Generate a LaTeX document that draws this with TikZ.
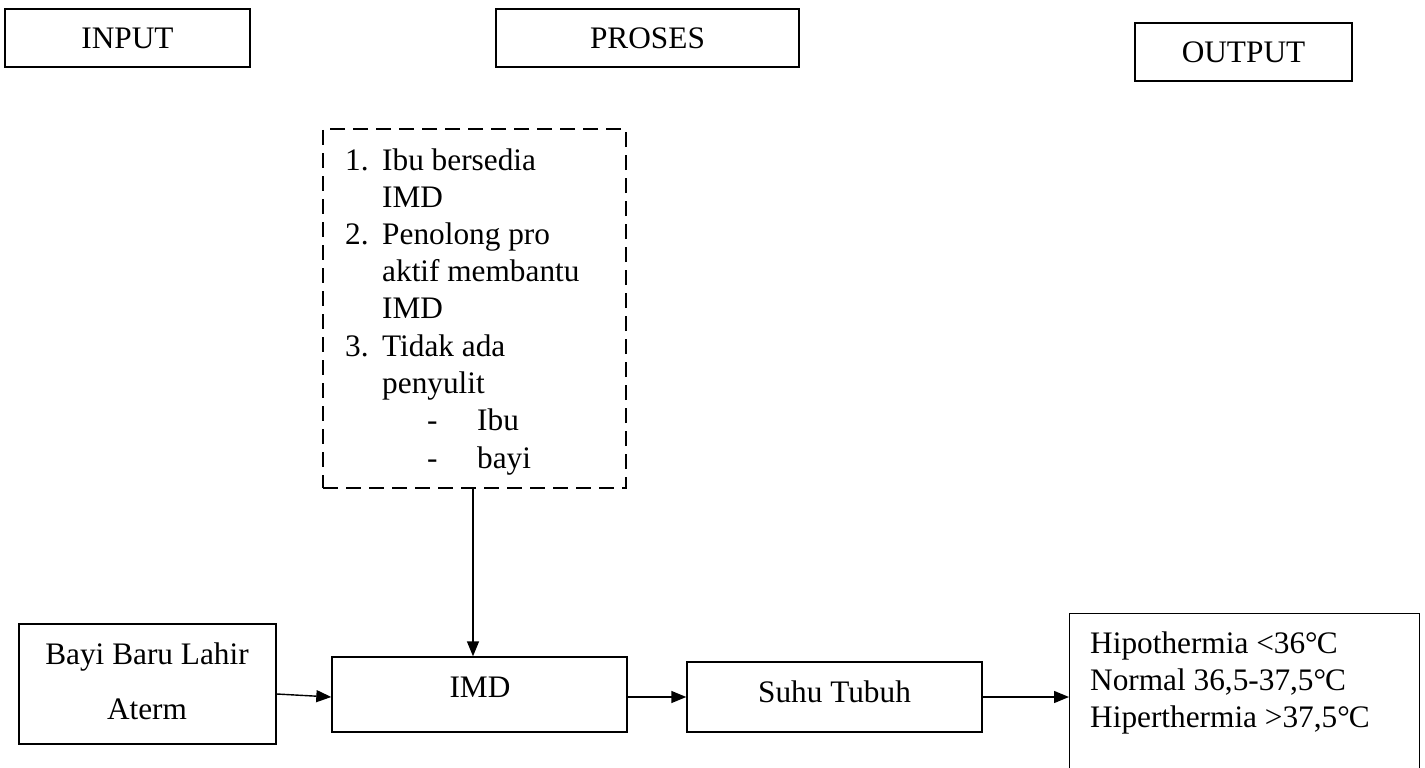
\documentclass[tikz,border=0pt]{standalone}
\usepackage{fontspec}
\setmainfont{Liberation Serif}
\usetikzlibrary{arrows.meta}
\begin{document}
\begin{tikzpicture}[x=1pt,y=-1pt,
  font=\fontsize{31.3}{37.25}\selectfont,
  box/.style={draw, line width=1.4pt, inner sep=0pt},
  dbox/.style={box, dash pattern=on 15pt off 8pt},
  txt/.style={inner sep=0pt, anchor=base},
  arr/.style={line width=1.4pt, -{Triangle[length=15pt,width=12pt]}}]
\clip (0,0) rectangle (1425,768);
% header boxes
\node[box, minimum width=245pt, minimum height=58pt] (input) at (127.5,38) {INPUT};
\node[box, minimum width=303pt, minimum height=58pt] (proses) at (647.5,38) {PROSES};
\node[box, minimum width=217pt, minimum height=58pt] (output) at (1243.5,52) {OUTPUT};
% dashed box with conditions
\node[dbox, minimum width=303pt, minimum height=359pt] (syarat) at (474.5,308.5) {};
\node[txt, anchor=base west] (list) at (345,170) {\begin{tabular}[t]{@{}l@{}l@{}}
\makebox[37pt][l]{1.} & Ibu bersedia\\
 & IMD\\
\makebox[37pt][l]{2.} & Penolong pro\\
 & aktif membantu\\
 & IMD\\
\makebox[37pt][l]{3.} & Tidak ada\\
 & penyulit\\
 & \hspace*{45pt}\makebox[50pt][l]{-}Ibu\\
 & \hspace*{45pt}\makebox[50pt][l]{-}bayi
\end{tabular}};
% flow boxes
\node[box, minimum width=257pt, minimum height=120pt] (bayi) at (147.5,684) {};
\node[txt] (bayitxt) at (147,664) {\begin{tabular}[t]{@{}c@{}}Bayi Baru Lahir\\[17.75pt] Aterm\end{tabular}};
\node[box, minimum width=295pt, minimum height=75pt] (imd) at (479.5,694.5) {};
\node[txt] (imdtxt) at (480,697) {IMD};
\node[box, minimum width=295pt, minimum height=70pt] (suhu) at (834.5,697) {};
\node[txt] (suhutxt) at (834.5,702) {Suhu Tubuh};
\node[box, minimum width=350pt, minimum height=200pt, anchor=north west] (hasil) at (1069,613) {};
\node[txt, anchor=base west] (hasiltxt) at (1090,653) {\begin{tabular}[t]{@{}l@{}}
Hipothermia <36°\kern-1pt C\\
Normal 36,5-37,5°\kern-1pt C\\
Hiperthermia >37,5°\kern-1pt C
\end{tabular}};
% connectors
\draw[arr] ([yshift=-10pt]bayi.east) -- ([yshift=-2.5pt]imd.west);
\draw[arr] (imd.east |- suhu.west) -- (suhu.west);
\draw[arr] (suhu.east) -- (suhu.east -| hasil.west);
\draw[arr] ([xshift=-1.5pt]syarat.south) -- ([xshift=-1.5pt]syarat.south |- imd.north);
\end{tikzpicture}
\end{document}
